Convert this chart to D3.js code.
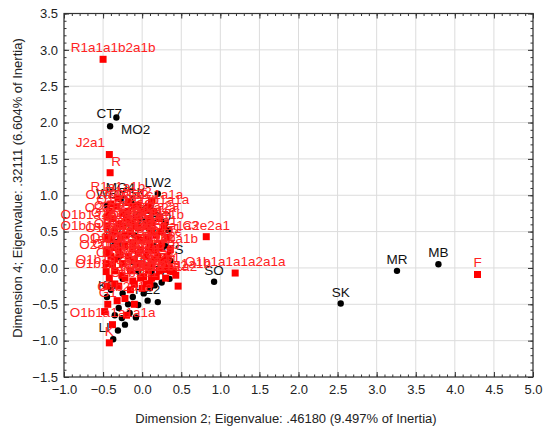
<!DOCTYPE html>
<html>
<head>
<meta charset="utf-8">
<script src="https://cdn.jsdelivr.net/npm/d3@7"></script>
<style>
  body { margin: 0; background: #fff; }
  svg text { font-family: Arial, "Liberation Sans", sans-serif; }
</style>
</head>
<body>
<svg id="chart"></svg>
<script>
// rows (populations) - black dots
var rowNames = ["CT7", "MO2", "LW2", "SO", "SK", "MR", "MB",
  "MO4", "WB", "ESK", "HB3BO", "", "MZ", "ETS", "", "KS", "HZ2", "LI",
  "", "", "", "", "", "", "", "", "", "", "", "", "", "", "", "",
  "TJ", "UZ", "KZ", "HN", "YI", "BA", "DA", "", "", "", "", ""];
var rowX = [-0.33, -0.41, 0.20, 0.92, 2.54, 3.26, 3.79,
  -0.28, -0.45, -0.13, 0.08, 0.33, -0.35, 0.36, 0.30, -0.45, 0.07, -0.37,
  0.20, 0.16, -0.05, -0.16, -0.26, -0.31, -0.22, -0.30, -0.12, 0.02, -0.35, -0.40, -0.25, 0.10, -0.18, -0.08,
  -0.20, -0.10, 0.05, -0.30, 0.15, -0.05, 0.25, 0.22, 0.12, 0.35, 0.30, -0.25];
var rowY = [2.07, 1.95, 1.02, -0.19, -0.49, -0.04, 0.05,
  0.95, 0.86, 0.88, 0.55, 0.52, 0.36, 0.10, 0.62, -0.40, -0.45, -0.98,
  -0.47, -0.24, -0.51, -0.62, -0.69, -0.86, -0.78, -0.55, -0.40, -0.35, -0.65, -0.30, -0.35, -0.28, -0.50, -0.68,
  0.75, 0.45, 0.65, 0.15, 0.30, -0.05, -0.20, 0.70, -0.05, -0.15, 0.30, -0.15];

// columns (haplogroups) - red squares
var colNames = ["R1a1a1b2a1b", "J2a1", "R", "C2e2a1", "O1b1a1a1a2a1a", "F", "O1b1a1a1b", "",
  "R1a1a1b", "O2a2a2a1a2a", "", "R1a1a2", "", "", "",
  "O2a1c1a1", "O1b1a1a1a1b", "O1a1a1a", "O1a2", "O1b1a1a1a1a1", "O2a2b1a1", "O2a1b1a1a1",
  "C2a1a", "N1a1a1", "Q1a2", "D1a1", "O2a2a1a", "O1b1a2", "O2a1a", "C2b1", "O2b", "N1b",
  "C1a", "O1b1a1a2", "O1b2a1a", "G1", "O1b1a1a1a1a", "K",
  "", "", "", "", "", "", "", "", "", "", "", "", "", "", "", "", "", "", "", "", "", "",
  "O2a2a1a2", "", "O2a1c1a1a",
  "", "O1a1a1a1", "", "O2a2b1a1a",
  "O2a1b1a", "", "O2a2a2a", "",
  "O1b1a1a1a1b1", "", "O2a1c1a", "", "C2e1b",
  "", "N1a1a1a", "", "Q1a1",
  "O1b1a1a1a1a2", "", "D1a2", "", "O1b1a1a3",
  "", "C2a1a1", "", "O2a1c",
  "O1a1b1a", "", "O2a2b2a", "", "O1b1a1b",
  "O2a1a1a1", "", "N1b1", "", "C1b",
  "", "O1b2a", "", "O2a2a1", "",
  "O1b1a1a1a3", "", "O3a", "", "J1",
  "", "L1a1", "", "H1a",
  "O2a2b1a2", "", "O1b1a1", ""];
var colX = [-0.50, -0.42, -0.41, 0.82, 1.19, 4.29, 0.43, 0.46,
  -0.31, -0.07, 0.12, -0.18, -0.05, 0.05, -0.40,
  -0.22, -0.12, -0.28, -0.38, -0.26, -0.05, 0.00,
  0.12, -0.10, 0.22, 0.05, -0.30, -0.42, 0.15, 0.28, -0.36, 0.02,
  -0.12, 0.18, -0.22, -0.44, -0.48, -0.42,
  0.35, 0.40, -0.45, -0.45, -0.46, -0.45, -0.30, -0.15, 0.00, 0.10, -0.35, -0.22, -0.05, 0.08, 0.18, -0.15, -0.25, 0.25, -0.32, -0.20, -0.38, -0.10,
  -0.32, -0.10, 0.08,
  -0.42, -0.18, 0.00, 0.15,
  -0.38, -0.20, 0.08, 0.22,
  -0.45, -0.25, -0.08, 0.05, 0.28,
  -0.35, -0.15, 0.12, 0.24,
  -0.45, -0.28, -0.05, 0.08, 0.32,
  -0.32, -0.12, 0.10, 0.25,
  -0.45, -0.30, -0.02, 0.15, 0.36,
  -0.40, -0.18, 0.05, 0.20, 0.32,
  -0.46, -0.25, -0.05, 0.12, 0.28,
  -0.35, -0.15, 0.08, 0.22, 0.36,
  -0.42, -0.22, -0.02, 0.12, 0.30,
  -0.35, -0.10, 0.05, 0.22,
  -0.42, -0.25, -0.05, 0.15];
var colY = [2.87, 1.56, 1.31, 0.43, -0.07, -0.09, -0.10, -0.25,
  0.96, 0.70, 0.92, 0.90, 0.86, 0.80, 0.88,
  0.45, 0.26, 0.18, 0.05, -0.10, 0.55, 0.38,
  0.62, 0.10, 0.28, 0.02, 0.60, 0.40, 0.12, -0.02, 0.28, -0.12,
  -0.18, -0.12, -0.42, -0.50, -0.60, -1.03,
  0.00, -0.05, 0.70, 0.20, -0.05, -0.25, -0.25, -0.30, -0.28, -0.22, 0.12, 0.30, 0.20, 0.25, 0.45, 0.62, 0.75, 0.10, -0.45, -0.65, -0.78, -0.50,
  0.85, 0.85, 0.85,
  0.78, 0.78, 0.78, 0.78,
  0.68, 0.68, 0.68, 0.68,
  0.58, 0.58, 0.58, 0.58, 0.58,
  0.50, 0.50, 0.50, 0.50,
  0.42, 0.42, 0.42, 0.42, 0.42,
  0.34, 0.34, 0.34, 0.34,
  0.25, 0.25, 0.25, 0.25, 0.25,
  0.16, 0.16, 0.16, 0.16, 0.16,
  0.06, 0.06, 0.06, 0.06, 0.06,
  -0.04, -0.04, -0.04, -0.04, -0.04,
  -0.14, -0.14, -0.14, -0.14, -0.14,
  -0.22, -0.22, -0.22, -0.22,
  -0.32, -0.32, -0.32, -0.32];

var xTicks = [-1.0, -0.5, 0.0, 0.5, 1.0, 1.5, 2.0, 2.5, 3.0, 3.5, 4.0, 4.5, 5.0];
var yTicks = [-1.5, -1.0, -0.5, 0.0, 0.5, 1.0, 1.5, 2.0, 2.5, 3.0, 3.5];
var xTitle = "Dimension 2; Eigenvalue: .46180 (9.497% of Inertia)";
var yTitle = "Dimension 4; Eigenvalue: .32111 (6.604% of Inertia)";

// label nudges for points that were moved off the default (centered above)
var labelNudge = {
  "R1a1a1b2a1b": [10, -7, "middle"],
  "CT7": [-7, 1, "middle"],
  "MO2": [11, 8, "start"],
  "J2a1": [-19, -8, "middle"],
  "R": [6, -7, "middle"],
  "O1b1a1a1a1a": [8, 5, "middle"],
  "LI": [-9, -7, "middle"]
};

var screen = {width: 548, height: 429};
var margins = {top: 13.5, right: 15, bottom: 52, left: 64};
var width = screen.width - margins.left - margins.right;
var height = screen.height - margins.top - margins.bottom;

var svg = d3.select("#chart")
  .attr("width", screen.width)
  .attr("height", screen.height);

var g = svg.append("g")
  .attr("transform", "translate(" + margins.left + "," + margins.top + ")");

var xScale = d3.scaleLinear().domain([-1, 5]).range([0, width]);
var yScale = d3.scaleLinear().domain([-1.5, 3.5]).range([height, 0]);

// grid
g.append("g").selectAll("line").data(xTicks).enter().append("line")
  .attr("x1", function(d) { return xScale(d); })
  .attr("x2", function(d) { return xScale(d); })
  .attr("y1", 0).attr("y2", height)
  .attr("stroke", "#dcdcdc").attr("stroke-width", 1);
g.append("g").selectAll("line").data(yTicks).enter().append("line")
  .attr("y1", function(d) { return yScale(d); })
  .attr("y2", function(d) { return yScale(d); })
  .attr("x1", 0).attr("x2", width)
  .attr("stroke", "#dcdcdc").attr("stroke-width", 1);

// minor ticks every 0.1
var xMinor = d3.range(-10, 51).map(function(i) { return i / 10; });
var yMinor = d3.range(-15, 36).map(function(i) { return i / 10; });

var styleAxis = function(sel) {
  sel.select(".domain").remove();
  sel.selectAll("line").attr("stroke", "#333");
  sel.selectAll("text").attr("font-size", "13px").attr("fill", "#222")
    .style("font-family", "Arial, 'Liberation Sans', sans-serif");
};

var fmt = d3.format(".1f");

g.append("g").attr("transform", "translate(0," + height + ")")
  .call(d3.axisBottom(xScale).tickValues(xMinor).tickSize(-2.5).tickFormat(""))
  .call(styleAxis);
g.append("g")
  .call(d3.axisTop(xScale).tickValues(xMinor).tickSize(-2.5).tickFormat(""))
  .call(styleAxis);
g.append("g")
  .call(d3.axisLeft(yScale).tickValues(yMinor).tickSize(-2.5).tickFormat(""))
  .call(styleAxis);
g.append("g").attr("transform", "translate(" + width + ",0)")
  .call(d3.axisRight(yScale).tickValues(yMinor).tickSize(-2.5).tickFormat(""))
  .call(styleAxis);

g.append("g").attr("transform", "translate(0," + height + ")")
  .call(d3.axisBottom(xScale).tickValues(xTicks).tickSize(-5).tickPadding(8).tickFormat(fmt))
  .call(styleAxis);
g.append("g")
  .call(d3.axisTop(xScale).tickValues(xTicks).tickSize(-5).tickFormat(""))
  .call(styleAxis);
g.append("g")
  .call(d3.axisLeft(yScale).tickValues(yTicks).tickSize(-5).tickPadding(6).tickFormat(fmt))
  .call(styleAxis);
g.append("g").attr("transform", "translate(" + width + ",0)")
  .call(d3.axisRight(yScale).tickValues(yTicks).tickSize(-5).tickFormat(""))
  .call(styleAxis);

// frame
g.append("rect")
  .attr("x", 0).attr("y", 0).attr("width", width).attr("height", height)
  .attr("fill", "none").attr("stroke", "#333").attr("stroke-width", 1.2);

// axis titles
svg.append("text")
  .attr("x", 286).attr("y", 423)
  .attr("text-anchor", "middle")
  .attr("font-size", "13px").attr("fill", "#222")
  .text(xTitle);
svg.append("text")
  .attr("transform", "translate(22,188) rotate(-90)")
  .attr("text-anchor", "middle")
  .attr("font-size", "13px").attr("fill", "#222")
  .text(yTitle);

var rows = rowNames.map(function(n, i) { return {name: n, x: rowX[i], y: rowY[i]}; });
var cols = colNames.map(function(n, i) { return {name: n, x: colX[i], y: colY[i]}; });

var drawLabels = function(data, color) {
  g.append("g").selectAll("text").data(data.filter(function(d) { return d.name; }))
    .enter().append("text")
    .attr("x", function(d) {
      var nudge = labelNudge[d.name];
      return xScale(d.x) + (nudge ? nudge[0] : 0);
    })
    .attr("y", function(d) {
      var nudge = labelNudge[d.name];
      return yScale(d.y) + (nudge ? nudge[1] : -7);
    })
    .attr("text-anchor", function(d) {
      var nudge = labelNudge[d.name];
      return nudge ? nudge[2] : "middle";
    })
    .attr("font-size", "13.5px")
    .attr("fill", color)
    .text(function(d) { return d.name; });
};

// black series
g.append("g").selectAll("circle").data(rows).enter().append("circle")
  .attr("cx", function(d) { return xScale(d.x); })
  .attr("cy", function(d) { return yScale(d.y); })
  .attr("r", 3.2)
  .attr("fill", "#000");
drawLabels(rows, "#111");

// red series
g.append("g").selectAll("rect").data(cols).enter().append("rect")
  .attr("x", function(d) { return xScale(d.x) - 3.5; })
  .attr("y", function(d) { return yScale(d.y) - 3.5; })
  .attr("width", 7).attr("height", 7)
  .attr("fill", "#f00");
drawLabels(cols, "#f22");
</script>
</body>
</html>
